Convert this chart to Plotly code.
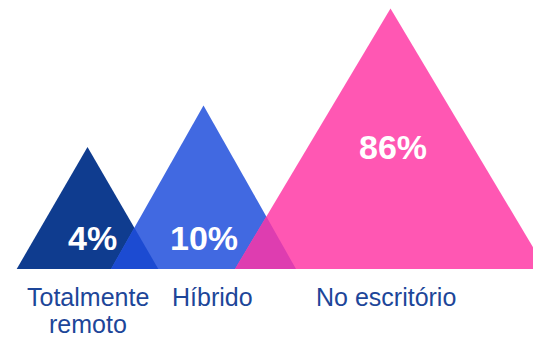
import math
import plotly.graph_objects as go

# Work arrangement survey shares
categories = ["Totalmente<br>remoto", "Híbrido", "No escritório"]
values = [4, 10, 86]
value_labels = ["4%", "10%", "86%"]

# Glyph layout: horizontal centre and half base width of each triangle (x units = px)
centers = [87.5, 203.5, 390.5]
half_widths = [70.8, 92.5, 155.5]
fill_colors = ["#0f3c8f", "#4169e1", "#ff57b3"]
overlap_colors = ["#1c4bd2", "#de3db0"]
label_color = "#1d4699"

W, H = 533, 338
floor_value = 0.267          # common base of all triangles on the log axis
y_range = [-1.2379, 2.0168]  # log10 range of the value axis


def px_to_log(py):
    """Pixel row (from top) to log10 value on the y axis."""
    return y_range[1] - py / H * (y_range[1] - y_range[0])


base_log = math.log10(floor_value)

fig = go.Figure()

# Triangles: base on the floor, apex at the share value
tri = []
for c, hw, v, col in zip(centers, half_widths, values, fill_colors):
    xs = [c - hw, c, c + hw, c - hw]
    ys = [floor_value, v, floor_value, floor_value]
    tri.append((c, hw, math.log10(v)))
    fig.add_trace(go.Scatter(x=xs, y=ys, mode="lines", fill="toself",
                             fillcolor=col, line=dict(width=0, color=col),
                             hoverinfo="skip", showlegend=False))

# Overlap between neighbouring triangles, solved in (x, log10 y) space
for i in range(len(tri) - 1):
    c1, h1, a1 = tri[i]
    c2, h2, a2 = tri[i + 1]
    s1 = (a1 - base_log) / h1
    s2 = (a2 - base_log) / h2
    r1 = c1 + h1
    l2 = c2 - h2
    # right edge of the left triangle meets left edge of the right one
    xi = (s1 * r1 + s2 * l2) / (s1 + s2)
    yi = base_log + s1 * (r1 - xi)
    fig.add_trace(go.Scatter(x=[l2, xi, r1, l2],
                             y=[floor_value, 10 ** yi, floor_value, floor_value],
                             mode="lines", fill="toself",
                             fillcolor=overlap_colors[i],
                             line=dict(width=0, color=overlap_colors[i]),
                             hoverinfo="skip", showlegend=False))

# Value labels inside the triangles
value_pos = [(92.5, 238), (204, 238), (392.5, 147)]
for (lx, ly), t in zip(value_pos, value_labels):
    fig.add_annotation(x=lx, y=px_to_log(ly), text=t, showarrow=False,
                       xanchor="center", yanchor="middle",
                       font=dict(family="Liberation Sans", size=34,
                                 color="white", weight="bold"))

# Category labels under the baseline, one annotation per line for tight leading
cat_x = [88, 212, 386]
line_tops = [281, 308]
for cx, cat in zip(cat_x, categories):
    for k, line in enumerate(cat.split("<br>")):
        fig.add_annotation(x=cx, y=px_to_log(line_tops[k]), text=line,
                           showarrow=False, xanchor="center", yanchor="top",
                           font=dict(family="Liberation Sans", size=25,
                                     color=label_color))

fig.update_xaxes(range=[0, W], visible=False, showgrid=False, zeroline=False)
fig.update_yaxes(type="log", range=y_range, visible=False, showgrid=False,
                 zeroline=False)
fig.update_layout(width=W, height=H, margin=dict(l=0, r=0, t=0, b=0),
                  paper_bgcolor="white", plot_bgcolor="white")

fig.write_html("out.html")
